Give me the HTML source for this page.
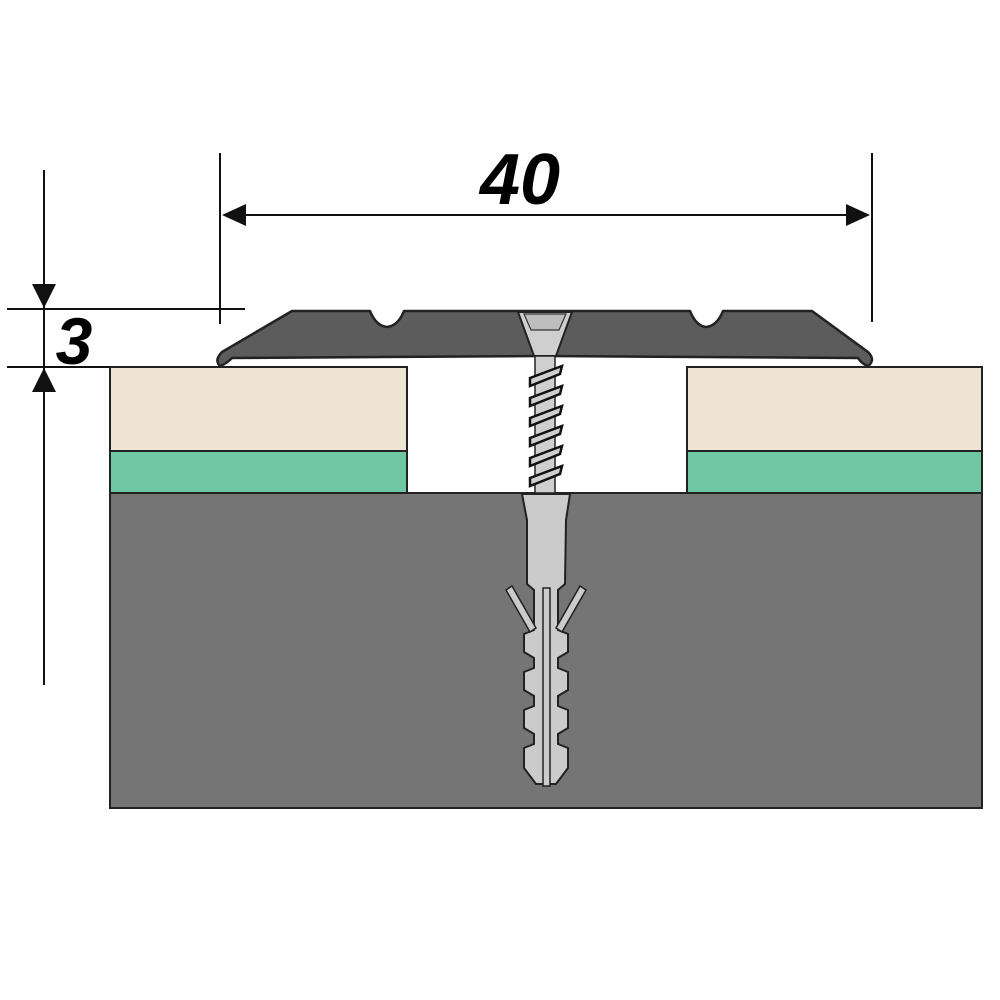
<!DOCTYPE html>
<html><head><meta charset="utf-8"><style>
html,body{margin:0;padding:0;background:#fff;}
svg{display:block}
</style></head><body>
<svg width="1000" height="1000" viewBox="0 0 1000 1000" xmlns="http://www.w3.org/2000/svg">
<rect width="1000" height="1000" fill="#fff"/>
<!-- concrete -->
<rect x="110" y="493" width="872" height="315" fill="#757575" stroke="#222" stroke-width="2"/>
<!-- boards -->
<rect x="110" y="367" width="297" height="84" fill="#efe3d4" stroke="#222" stroke-width="2"/>
<rect x="110" y="451" width="297" height="42" fill="#6ec6a2" stroke="#222" stroke-width="2"/>
<rect x="687" y="367" width="295" height="84" fill="#efe3d4" stroke="#222" stroke-width="2"/>
<rect x="687" y="451" width="295" height="42" fill="#6ec6a2" stroke="#222" stroke-width="2"/>
<!-- profile -->
<path d="M292,311 L370,311 Q376,326 387,327 Q398,326 404,311 L690,311 Q696,326 706,327 Q717,326 723,311 L812,311 L868,352 Q876,360 868,366 Q862,364 858,358 L545,356 L232,358 Q226,364 220,366 Q214,360 222,352 Z" fill="#5c5c5c" stroke="#222" stroke-width="2.5" stroke-linejoin="round"/>
<!-- screw head -->
<path d="M518,312 L572,312 L556,356 L534,356 Z" fill="#cfcfcf" stroke="#222" stroke-width="2"/>
<path d="M524,314 L566,314 L559,330 L531,330 Z" fill="#bdbdbd" stroke="#333" stroke-width="1.2"/>
<!-- screw shank -->
<rect x="535" y="356" width="20" height="137" fill="#cfcfcf" stroke="#222" stroke-width="1.5"/>
<g stroke="#111" stroke-width="2.5" fill="#cfcfcf">
<path d="M530,378 L562,366 L560,374 L530,386 Z"/>
<path d="M530,398 L562,386 L560,394 L530,406 Z"/>
<path d="M530,418 L562,406 L560,414 L530,426 Z"/>
<path d="M530,438 L562,426 L560,434 L530,446 Z"/>
<path d="M530,458 L562,446 L560,454 L530,466 Z"/>
<path d="M530,478 L562,466 L560,474 L530,486 Z"/>
</g>
<!-- dowel -->
<path d="M522,494 L570,494 L566,520 L565,584 L558,590 L558,630 L568,634 L568,652 L558,658 L558,668 L568,672 L568,690 L558,696 L558,706 L568,710 L568,728 L558,734 L558,744 L568,748 L568,768 L556,784 L536,784 L524,768 L524,748 L534,744 L534,734 L524,728 L524,710 L534,706 L534,696 L524,690 L524,672 L534,668 L534,658 L524,652 L524,634 L534,630 L534,590 L527,584 L527,520 Z" fill="#cbcbcb" stroke="#222" stroke-width="2"/>
<rect x="543" y="588" width="7" height="198" fill="#cbcbcb" stroke="#222" stroke-width="1.5"/>
<path d="M506,590 L512,586 L536,628 L530,632 Z" fill="#cbcbcb" stroke="#222" stroke-width="1.5"/>
<path d="M586,590 L580,586 L556,628 L562,632 Z" fill="#cbcbcb" stroke="#222" stroke-width="1.5"/>
<!-- dimensions -->
<g stroke="#111" stroke-width="2" fill="none">
<line x1="220" y1="153" x2="220" y2="324"/>
<line x1="872" y1="153" x2="872" y2="322"/>
<line x1="240" y1="215" x2="852" y2="215"/>
<line x1="44" y1="170" x2="44" y2="685"/>
<line x1="7" y1="309" x2="245" y2="309"/>
<line x1="7" y1="367" x2="110" y2="367"/>
</g>
<g fill="#111">
<path d="M222,215 L246,204 L246,226 Z"/>
<path d="M870,215 L846,204 L846,226 Z"/>
<path d="M44,308 L32,284 L56,284 Z"/>
<path d="M44,368 L32,392 L56,392 Z"/>
</g>
<text x="520" y="204" font-family="Liberation Sans, sans-serif" font-size="72" font-weight="bold" font-style="italic" text-anchor="middle" fill="#000">40</text>
<text x="74" y="364" font-family="Liberation Sans, sans-serif" font-size="66" font-weight="bold" font-style="italic" text-anchor="middle" fill="#000">3</text>
</svg>
</body></html>
